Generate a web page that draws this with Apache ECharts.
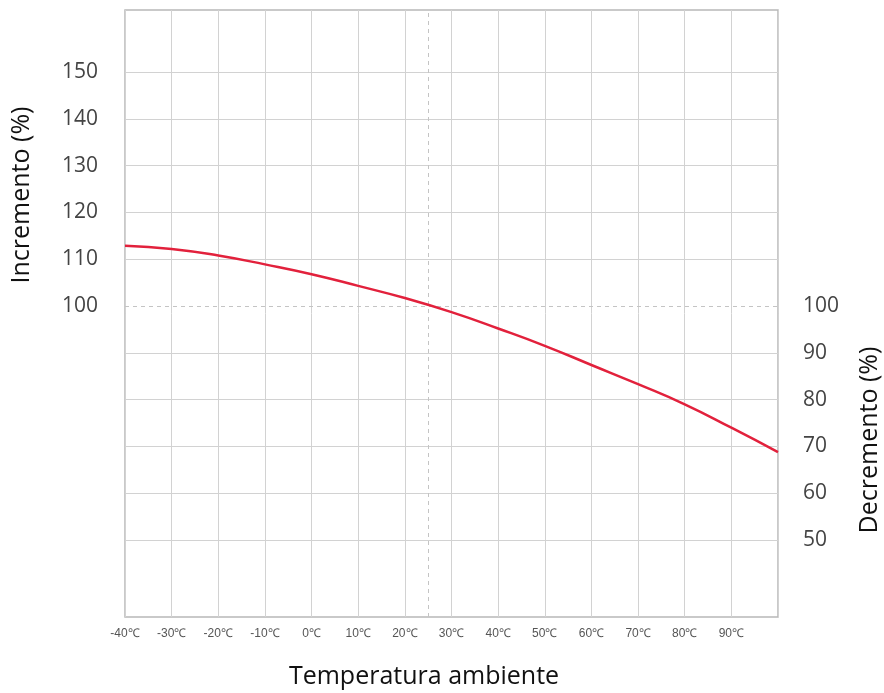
<!DOCTYPE html>
<html><head><meta charset="utf-8">
<script src="https://cdn.jsdelivr.net/npm/echarts@6/dist/echarts.min.js"></script>
<style>html,body{margin:0;padding:0;background:#fff}#c{width:884px;height:693px}</style>
</head><body><div id="c"></div>
<script>
const temps = [-40,-30,-20,-10,0,10,20,30,40,50,60,70,80,90,100];
const percent = [112.9,112.2,110.8,108.9,106.8,104.3,101.7,98.7,95.2,91.5,87.4,83.3,79.0,74.0,68.8];
const leftTicks = [100,110,120,130,140,150];
const rightTicks = [50,60,70,80,90,100];
const gridValues = [50,60,70,80,90,110,120,130,140,150];
const xTickLabels = ['-40℃','-30℃','-20℃','-10℃','0℃','10℃','20℃','30℃','40℃','50℃','60℃','70℃','80℃','90℃',''];
const refTemp = 25, refPct = 100;

const chart = echarts.init(document.getElementById('c'), null, {renderer:'canvas'});
const yMin = 33.55, yMax = 163.25;
chart.setOption({
  animation:false,
  grid:{left:125,right:106,top:10,bottom:76,show:true,borderColor:'#b8b8b8',borderWidth:1.5},
  xAxis:{type:'value',min:-40,max:100,interval:10,
    axisLine:{show:false},axisTick:{show:false},
    splitLine:{show:true,lineStyle:{color:'#d2d2d2',width:1}},
    axisLabel:{margin:11,fontSize:12,color:'#555',fontFamily:'Liberation Sans Narrow, Liberation Sans',
      formatter:(v)=>xTickLabels[Math.round((v+40)/10)]||''}},
  yAxis:[
    {type:'value',min:yMin,max:yMax,position:'left',
      axisLine:{show:false},axisTick:{show:false},splitLine:{show:false},
      axisLabel:{customValues:leftTicks,fontSize:21,color:'#444',margin:27,fontFamily:'Open Sans'}},
    {type:'value',min:yMin,max:yMax,position:'right',
      axisLine:{show:false},axisTick:{show:false},splitLine:{show:false},
      axisLabel:{customValues:rightTicks,fontSize:21,color:'#444',margin:25,fontFamily:'Open Sans'}}
  ],
  series:[{type:'line',data:temps.map((t,i)=>[t,percent[i]]),smooth:0.5,showSymbol:false,
    lineStyle:{color:'#e2213c',width:2.5},z:5,
    markLine:{silent:true,symbol:'none',label:{show:false},animation:false,z:1,
      data:[
        ...gridValues.map(v=>({yAxis:v,lineStyle:{color:'#d2d2d2',width:1,type:'solid'}})),
        {yAxis:refPct,lineStyle:{color:'#c4c4c4',width:1,type:[4,4]}},
        {xAxis:refTemp,lineStyle:{color:'#c4c4c4',width:1,type:[4,4]}}
      ]}}],
  graphic:[
    {type:'text',x:22,y:195,rotation:Math.PI/2,style:{text:'Incremento (%)',font:'25px "Open Sans"',fill:'#111',align:'center',verticalAlign:'middle'}},
    {type:'text',x:870,y:440,rotation:Math.PI/2,style:{text:'Decremento (%)',font:'25px "Open Sans"',fill:'#111',align:'center',verticalAlign:'middle'}},
    {type:'text',x:424,y:677,style:{text:'Temperatura ambiente',font:'25px "Open Sans"',fill:'#111',align:'center',verticalAlign:'middle'}}
  ]
});
</script></body></html>
